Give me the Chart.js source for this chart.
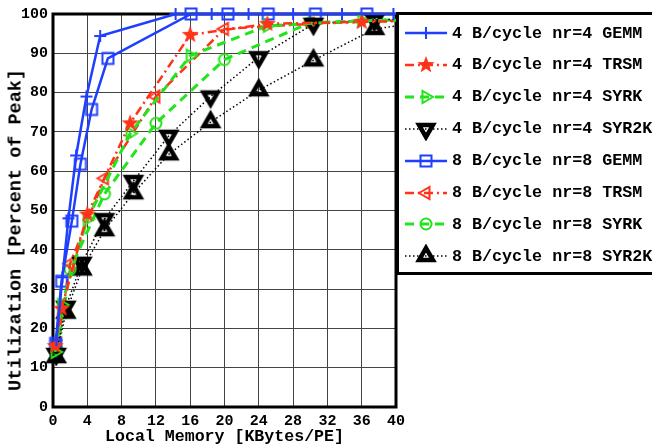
<!DOCTYPE html>
<html>
<head>
<meta charset="utf-8">
<script src="https://cdn.jsdelivr.net/npm/chart.js@4.4.1/dist/chart.umd.min.js"></script>
<style>
  html, body { margin: 0; padding: 0; background: #fff; }
  #wrap { position: relative; width: 652px; height: 447px; overflow: hidden; }
  #legend {
    position: absolute; left: 396px; top: 12px; width: 270px; height: 257px;
    border: 3px solid #000; background: #fff;
    font: bold 16.7px 'Liberation Mono', monospace; color: #000;
  }
  .row { position: absolute; left: 6px; height: 24px; display: flex; align-items: center; white-space: nowrap; }
  .row canvas { margin-right: 5px; }
  #ytitle {
    position: absolute; left: 16px; top: 230px; white-space: nowrap;
    font: bold 18.5px 'Liberation Mono', monospace; color: #000;
    transform: translate(-50%, -50%) rotate(-90deg);
  }
</style>
</head>
<body>
<div id="wrap">
  <canvas id="chart"></canvas>
  <div id="ytitle">Utilization [Percent of Peak]</div>
  <div id="legend"></div>
</div>
<script>
// memory sizes (KBytes/PE) and utilization (% of peak)
const gemm4Mem  = [0.4, 1.1, 1.8, 2.7, 3.9, 5.5, 14.3, 18.5, 22.8, 28.0, 33.7, 39.7];
const gemm4Util = [17, 33, 48, 64, 79, 94.4, 100, 100, 100, 100, 100, 100];

const trsm4Mem  = [0.25, 1, 4, 9, 16, 25, 36, 49];
const trsm4Util = [15.5, 25, 49, 72.2, 94.7, 97.5, 98, 98.5];

const syrk4Mem  = [0.25, 1, 4, 9, 16, 25, 36, 49];
const syrk4Util = [14, 26, 47.8, 69.6, 89.4, 97, 98.3, 98.6];

const syr2kMem   = [0.375, 1.5, 3.375, 6, 9.375, 13.5, 18.375, 24, 30.375, 37.5, 45.375];
const syr2k4Util = [13.5, 25.5, 36.7, 47.8, 57.5, 69, 79, 89, 97.5, 98.5, 99];
const syr2k8Util = [12.7, 24, 35, 45, 54.4, 64.3, 72.5, 80.6, 88.2, 96.2, 98.5];

const gemm8Mem  = [0.3, 1.0, 2.2, 3.2, 4.5, 6.4, 16.1, 20.4, 25.1, 30.6, 36.6];
const gemm8Util = [16.2, 32, 47.3, 61.8, 75.7, 88.7, 100, 100, 100, 100, 100];

const trsm8Mem  = [0.5, 2, 6, 12, 20, 30, 42];
const trsm8Util = [16, 36.5, 58.2, 79, 96.2, 97.5, 98.5];

const syrk8Mem  = [0.5, 2, 6, 12, 20, 30, 42];
const syrk8Util = [14.5, 35, 54.2, 72.2, 88.4, 97.8, 98.7];

const BLUE = '#1f3fff', RED = '#ff3318', GREEN = '#22e41a', BLACK = '#000';

// little canvases used as point styles (and in the legend)
function marker(kind, color, lw) {
  const s = 28, m = s / 2;
  const c = document.createElement('canvas');
  c.width = s; c.height = s;
  const g = c.getContext('2d');
  g.strokeStyle = color; g.fillStyle = color; g.lineWidth = lw;
  g.beginPath();
  if (kind === 'cross') {
    g.moveTo(m - 6, m); g.lineTo(m + 6, m);
    g.moveTo(m, m - 6); g.lineTo(m, m + 6);
    g.stroke();
  } else if (kind === 'square') {
    g.rect(m - 5.5, m - 5.5, 11, 11); g.stroke();
  } else if (kind === 'circle') {
    g.arc(m, m, 5.5, 0, Math.PI * 2); g.stroke();
  } else if (kind === 'star') {
    for (let i = 0; i < 10; i++) {
      const r = i % 2 ? 3.8 : 9;
      const a = -Math.PI / 2 + i * Math.PI / 5;
      g.lineTo(m + r * Math.cos(a), m + r * Math.sin(a));
    }
    g.closePath(); g.fill();
  } else {
    const start = { up: -Math.PI / 2, right: 0, down: Math.PI / 2, left: Math.PI }[kind];
    const r = lw > 3 ? 8 : 7;
    for (let i = 0; i < 3; i++) {
      const a = start + i * 2 * Math.PI / 3;
      g.lineTo(m + r * Math.cos(a), m + r * Math.sin(a));
    }
    g.closePath(); g.stroke();
  }
  return c;
}

const seriesDefs = [
  { label: '4 B/cycle nr=4 GEMM',  mem: gemm4Mem,  util: gemm4Util,  color: BLUE,  dash: [],           width: 2.5, pt: marker('cross', BLUE, 2) },
  { label: '4 B/cycle nr=4 TRSM',  mem: trsm4Mem,  util: trsm4Util,  color: RED,   dash: [9, 4, 2, 4],  width: 2.5, pt: marker('star', RED, 2) },
  { label: '4 B/cycle nr=4 SYRK',  mem: syrk4Mem,  util: syrk4Util,  color: GREEN, dash: [9, 6],        width: 3,   pt: marker('right', GREEN, 2) },
  { label: '4 B/cycle nr=4 SYR2K', mem: syr2kMem,  util: syr2k4Util, color: BLACK, dash: [1.5, 2.5],    width: 1.5, pt: marker('down', BLACK, 4.5) },
  { label: '8 B/cycle nr=8 GEMM',  mem: gemm8Mem,  util: gemm8Util,  color: BLUE,  dash: [],           width: 2.5, pt: marker('square', BLUE, 2) },
  { label: '8 B/cycle nr=8 TRSM',  mem: trsm8Mem,  util: trsm8Util,  color: RED,   dash: [9, 4, 2, 4],  width: 2.5, pt: marker('left', RED, 2) },
  { label: '8 B/cycle nr=8 SYRK',  mem: syrk8Mem,  util: syrk8Util,  color: GREEN, dash: [9, 6],        width: 3,   pt: marker('circle', GREEN, 2) },
  { label: '8 B/cycle nr=8 SYR2K', mem: syr2kMem,  util: syr2k8Util, color: BLACK, dash: [1.5, 2.5],    width: 1.5, pt: marker('up', BLACK, 4.5) }
];

const datasets = seriesDefs.map(s => ({
  label: s.label,
  data: s.mem.map((x, i) => ({ x: x, y: s.util[i] })),
  borderColor: s.color,
  backgroundColor: s.color,
  borderWidth: s.width,
  borderDash: s.dash,
  pointStyle: s.pt,
  pointRadius: 6,
  pointHoverRadius: 6,
  tension: 0,
  fill: false,
  clip: { left: 12, top: 12, right: 0, bottom: 12 }
}));

// plot box drawn under the data
const boxPlugin = {
  id: 'box',
  beforeDatasetsDraw(chart) {
    const { ctx, chartArea: a } = chart;
    ctx.save();
    ctx.strokeStyle = '#000';
    ctx.lineWidth = 3;
    ctx.strokeRect(a.left, a.top, a.right - a.left, a.bottom - a.top);
    ctx.restore();
  }
};

const gridOpts = { color: '#444', lineWidth: 1, borderDash: [1.2, 3.3], drawTicks: false };
const tickFont = { family: "'Liberation Mono', monospace", size: 15, weight: 'bold' };

new Chart(document.getElementById('chart'), {
  type: 'line',
  data: { datasets: datasets },
  options: {
    responsive: true,
    maintainAspectRatio: false,
    animation: false,
    events: [],
    layout: { padding: { left: 0, top: 12, right: 256, bottom: 0 } },
    plugins: { legend: { display: false }, tooltip: { enabled: false } },
    scales: {
      x: {
        type: 'linear', min: 0, max: 40,
        grid: gridOpts,
        border: { display: false },
        ticks: { stepSize: 4, color: '#000', font: tickFont, padding: 5, maxRotation: 0 },
        title: { display: true, text: 'Local Memory [KBytes/PE]', color: '#000',
                 font: { family: "'Liberation Mono', monospace", size: 16.6, weight: 'bold' },
                 padding: { top: 0, bottom: 0 } },
        afterFit(scale) { scale.height = 40; }
      },
      y: {
        type: 'linear', min: 0, max: 100,
        grid: gridOpts,
        border: { display: false },
        ticks: { stepSize: 10, color: '#000', font: tickFont, padding: 5 },
        afterFit(scale) { scale.width = 53; }
      }
    }
  },
  plugins: [boxPlugin]
});

// legend as html, with a line+marker sample per series
const legend = document.getElementById('legend');
seriesDefs.forEach((s, i) => {
  const row = document.createElement('div');
  row.className = 'row';
  row.style.top = (6 + 31.9 * i) + 'px';
  const c = document.createElement('canvas');
  c.width = 42; c.height = 24;
  const g = c.getContext('2d');
  g.strokeStyle = s.color; g.lineWidth = s.width; g.setLineDash(s.dash);
  g.beginPath(); g.moveTo(0, 12); g.lineTo(42, 12); g.stroke();
  g.drawImage(s.pt, 21 - s.pt.width / 2, 12 - s.pt.height / 2);
  const t = document.createElement('span');
  t.textContent = s.label;
  row.appendChild(c);
  row.appendChild(t);
  legend.appendChild(row);
});
</script>
</body>
</html>
